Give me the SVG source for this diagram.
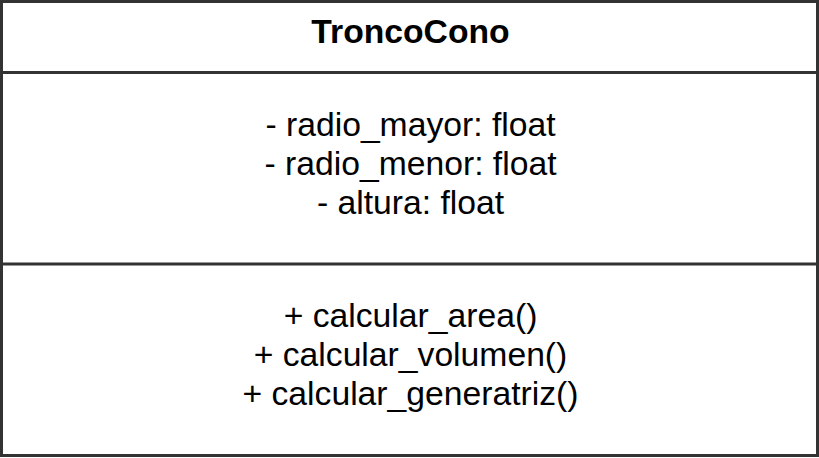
<svg xmlns="http://www.w3.org/2000/svg" width="819" height="458" viewBox="0 0 819 458">
  <style>
    .box { fill: #ffffff; stroke: #333333; stroke-width: 3; }
    .sep { stroke: #333333; stroke-width: 3; fill: none; }
    .txt { font-family: "Liberation Sans", Arial, sans-serif; font-size: 33.7px; fill: #000000; text-anchor: middle; }
    .title { font-weight: bold; }
  </style>
  <rect width="819" height="458" fill="#ffffff"/>
  <g id="TroncoCono">
    <rect class="box" x="1.5" y="1.5" width="816" height="454"/>
    <line class="sep" x1="1.5" y1="72.5" x2="817.5" y2="72.5"/>
    <line class="sep" x1="1.5" y1="264" x2="817.5" y2="264"/>
    <text class="txt title" x="410.5" y="43">TroncoCono</text>
    <text class="txt" x="410.5" y="136">- radio_mayor: float</text>
    <text class="txt" x="410.5" y="175">- radio_menor: float</text>
    <text class="txt" x="410.5" y="214">- altura: float</text>
    <text class="txt" x="410.5" y="327">+ calcular_area()</text>
    <text class="txt" x="410.5" y="366">+ calcular_volumen()</text>
    <text class="txt" x="410.5" y="405">+ calcular_generatriz()</text>
  </g>
  <g id="connectors"/>
</svg>
